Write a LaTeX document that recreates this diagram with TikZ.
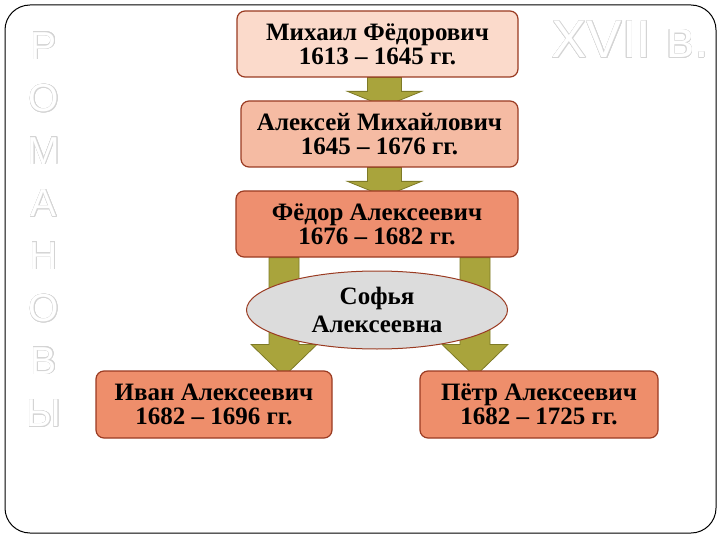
\documentclass[tikz,border=0pt]{standalone}
\usepackage{fontspec}
\setmainfont{Liberation Serif}
\newfontfamily\romfont{Liberation Sans}
\usepackage{contour}
\usetikzlibrary{calc,shapes.geometric,backgrounds}
\definecolor{boxcolor1}{HTML}{FBDACB}
\definecolor{boxcolor2}{HTML}{F5BBA3}
\definecolor{boxcolor3}{HTML}{EE8F6F}
\definecolor{boxcolor4}{HTML}{EE8E6B}
\definecolor{boxborder}{HTML}{9A3B22}
\definecolor{sofiafill}{HTML}{DCDCDC}
\definecolor{arrowfill}{HTML}{A9A43C}
\definecolor{arrowborder}{HTML}{7E7A26}
\definecolor{outlinegray}{HTML}{D4D4D4}
\contourlength{0.5pt}

\begin{document}
\begin{tikzpicture}[x = 1pt, y = -1pt,
    tsar/.style = {draw = boxborder, line width = 1.2pt, rounded corners = 8pt, align = center,
        minimum height = 66pt, inner sep = 0pt, font = \bfseries\fontsize{25}{24}\selectfont},
    sofia/.style = {draw = boxborder, fill = sofiafill, ellipse, line width = 1pt, align = center,
        minimum width = 261pt, minimum height = 78pt, inner sep = 0pt, font = \bfseries\fontsize{25}{28}\selectfont},
    romletter/.style = {text = white, font = \romfont\fontsize{39}{39}\selectfont},
    blockarrow/.style n args = {3}{draw = arrowborder, fill = arrowfill, line width = 0.8pt,
        to path = {let \p1 = (\tikztostart), \p2 = (\tikztotarget) in
            ({\x1-#1}, \y1) -- ({\x1-#1}, {\y2-6pt+#3}) -- ({\x1-#2}, {\y2-6pt+#3}) -- (\x1, {\y2-6pt})
            -- ({\x1+#2}, {\y2-6pt+#3}) -- ({\x1+#1}, {\y2-6pt+#3}) -- ({\x1+#1}, \y1) -- cycle}}]
    \useasboundingbox (0, 0) rectangle (720, 540);

    % Frame
    \draw [rounded corners = 25pt, line width = 1pt] (5, 5) rectangle (716, 533);

    % Romanovs
    \foreach \letter [count = \i] in {Р, О, М, А, Н, О, В, Ы}
        \node [romletter] (rom\i) at (44, {46 + 52.5*(\i - 1)}) {\contour{outlinegray}{\letter}};
    \node [romletter, font = \romfont\fontsize{53}{53}\selectfont, anchor = base west] (century) at (548, 58) {\contour{outlinegray}{XVII в.}};

    % Tsars
    \node [tsar, fill = boxcolor1, minimum width = 281pt] (mikhail) at (377.5, 44) {Михаил Фёдорович\\1613 – 1645 гг.};
    \node [tsar, fill = boxcolor2, minimum width = 277pt] (aleksei) at (379.5, 134) {Алексей Михайлович\\1645 – 1676 гг.};
    \node [tsar, fill = boxcolor3, minimum width = 282pt] (fedor) at (377, 224) {Фёдор Алексеевич\\1676 – 1682 гг.};
    \node [tsar, fill = boxcolor4, minimum width = 236pt, minimum height = 67pt] (ivan) at (214, 404.5) {Иван Алексеевич\\1682 – 1696 гг.};
    \node [tsar, fill = boxcolor4, minimum width = 238pt, minimum height = 67pt] (petr) at (539, 404.5) {Пётр Алексеевич\\1682 – 1725 гг.};
    \node [sofia] (sofia) at (377, 310) {Софья\\Алексеевна};

    % Arrows
    \begin{pgfonlayer}{background}
        \draw [blockarrow = {17pt}{37pt}{15pt}] ([xshift = 7pt]mikhail.south) to (aleksei.north);
        \draw [blockarrow = {17pt}{37pt}{15pt}] ([xshift = 5pt]aleksei.south) to (fedor.north);
        \draw [blockarrow = {15pt}{33pt}{32pt}] ([xshift = -93pt]fedor.south) to (ivan.north);
        \draw [blockarrow = {15pt}{33pt}{32pt}] ([xshift = 98pt]fedor.south) to (petr.north);
    \end{pgfonlayer}
\end{tikzpicture}
\end{document}
